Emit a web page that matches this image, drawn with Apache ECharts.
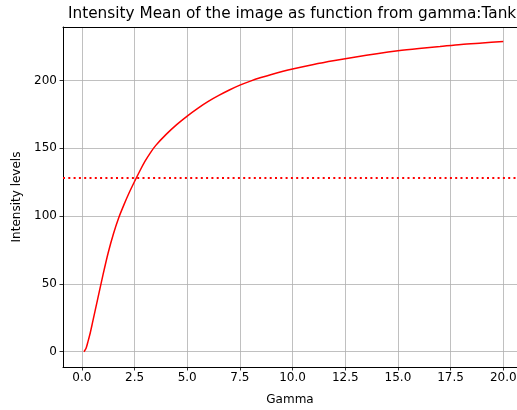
<!DOCTYPE html>
<html>
<head>
<meta charset="utf-8">
<script src="https://cdn.jsdelivr.net/npm/echarts@6/dist/echarts.min.js"></script>
<style>
html,body{margin:0;padding:0;background:#fff;}
#chart{width:517px;height:410px;}
</style>
</head>
<body>
<div id="chart"></div>
<script>
// Data
const gammaValues = [0.1, 0.2, 0.3, 0.4, 0.5, 0.75, 1.0, 1.25, 1.5, 1.75, 2.0, 2.25, 2.5, 2.75, 3.0, 3.25, 3.5, 4.0, 4.5, 5.0, 5.5, 6.0, 6.5, 7.0, 7.5, 8.0, 8.5, 9.0, 10.0, 11.0, 12.0, 13.0, 14.0, 15.0, 16.0, 17.0, 18.0, 19.0, 20.0];
const intensityMean = [0, 2.5, 8, 14, 21, 38.8, 56.5, 73, 87, 98.8, 108.5, 117.4, 125.5, 133.3, 140.5, 146.7, 152, 160.3, 167.5, 173.8, 179.5, 184.6, 189, 193, 196.6, 199.6, 202.2, 204.5, 208.5, 211.9, 214.8, 217.4, 219.8, 221.9, 223.6, 225.1, 226.6, 227.7, 228.8];
const thresholdLevel = 128;
const xTickValues = [0, 2.5, 5, 7.5, 10, 12.5, 15, 17.5, 20];
const yTickValues = [0, 50, 100, 150, 200];
const titleText = 'Intensity Mean of the image as function from gamma:Tank';
const xAxisName = 'Gamma';
const yAxisName = 'Intensity levels';

const seriesData = gammaValues.map((g, i) => [g, intensityMean[i]]);
const FONT = 'DejaVu Sans';
const X_MIN = -0.895, X_MAX = 20.652;

const chart = echarts.init(document.getElementById('chart'), null, {renderer: 'canvas'});
chart.setOption({
  animation: false,
  backgroundColor: '#ffffff',
  title: {
    text: titleText,
    left: 68,
    top: 7,
    padding: 0,
    textStyle: {fontFamily: FONT, fontSize: 15.3, fontWeight: 'normal', color: '#000'}
  },
  grid: {left: 63, top: 27, right: 0, height: 340, containLabel: false, outerBoundsMode: 'none'},
  xAxis: [{
    type: 'value',
    min: X_MIN,
    max: X_MAX,
    name: xAxisName,
    nameLocation: 'middle',
    nameGap: 27,
    nameTextStyle: {fontFamily: FONT, fontSize: 12, color: '#000'},
    axisLine: {show: true, onZero: false, lineStyle: {color: '#000', width: 1}},
    axisTick: {show: true, inside: false, length: 3.5, customValues: xTickValues, lineStyle: {color: '#000', width: 0.8}},
    axisLabel: {customValues: xTickValues, fontFamily: FONT, fontSize: 12, color: '#000', margin: 5,
      formatter: v => Number(v).toFixed(1)},
    splitLine: {show: true, lineStyle: {color: '#b0b0b0', width: 0.8}}
  }, {
    type: 'value',
    position: 'top',
    min: X_MIN,
    max: X_MAX,
    axisLine: {show: true, onZero: false, lineStyle: {color: '#000', width: 1}},
    axisTick: {show: false},
    axisLabel: {show: false},
    splitLine: {show: false}
  }],
  yAxis: {
    type: 'value',
    min: -11.3,
    max: 239.5,
    name: yAxisName,
    nameLocation: 'middle',
    nameGap: 40,
    nameTextStyle: {fontFamily: FONT, fontSize: 12, color: '#000'},
    axisLine: {show: true, onZero: false, lineStyle: {color: '#000', width: 1}},
    axisTick: {show: true, inside: false, length: 3.5, customValues: yTickValues, lineStyle: {color: '#000', width: 0.8}},
    axisLabel: {customValues: yTickValues, fontFamily: FONT, fontSize: 12, color: '#000', margin: 6},
    splitLine: {show: true, lineStyle: {color: '#b0b0b0', width: 0.8}}
  },
  series: [
    {
      type: 'line',
      xAxisIndex: 0,
      data: seriesData,
      showSymbol: false,
      smooth: 0.3,
      lineStyle: {color: '#ff0000', width: 1.5},
      itemStyle: {color: '#ff0000'},
      markLine: {
        silent: true,
        symbol: 'none',
        label: {show: false},
        lineStyle: {color: '#ff0000', width: 2, type: [2, 3.3]},
        data: [{yAxis: thresholdLevel}]
      }
    }
  ]
});
</script>
</body>
</html>
